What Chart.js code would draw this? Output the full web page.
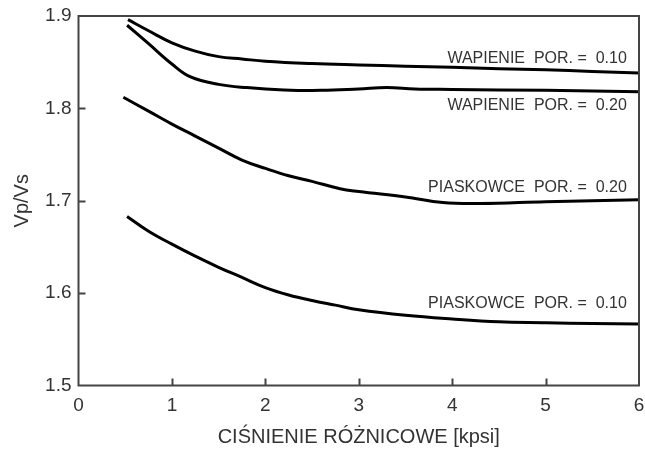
<!DOCTYPE html>
<html>
<head>
<meta charset="utf-8">
<script src="https://cdn.jsdelivr.net/npm/chart.js@4.4.1/dist/chart.umd.min.js"></script>
<style>
  html, body { margin: 0; padding: 0; background: #ffffff; }
  #wrap { width: 645px; height: 450px; }
</style>
</head>
<body>
<div id="wrap"><canvas id="c" width="645" height="450"></canvas></div>
<script>
// ---- data ----
const xTicks = [0, 1, 2, 3, 4, 5, 6];
const yTicks = [1.5, 1.6, 1.7, 1.8, 1.9];

const wap10X = [0.53, 0.75, 1.0, 1.25, 1.5, 1.75, 2.0, 2.5, 3.0, 3.5, 4.0, 4.5, 5.0, 5.5, 6.0];
const wap10Y = [1.896, 1.884, 1.871, 1.862, 1.856, 1.8535, 1.851, 1.8485, 1.847, 1.8457, 1.8444, 1.843, 1.8417, 1.840, 1.8384];

const wap20X = [0.52, 0.75, 1.0, 1.2, 1.5, 1.8, 2.2, 2.6, 3.0, 3.3, 3.6, 4.0, 5.0, 6.0];
const wap20Y = [1.890, 1.870, 1.848, 1.834, 1.826, 1.8225, 1.820, 1.8195, 1.821, 1.8225, 1.821, 1.8205, 1.8195, 1.818];

const pia20X = [0.48, 0.75, 1.0, 1.25, 1.5, 1.75, 2.0, 2.25, 2.5, 2.8, 3.0, 3.5, 3.9, 4.3, 5.0, 5.5, 6.0];
const pia20Y = [1.812, 1.797, 1.783, 1.770, 1.757, 1.744, 1.735, 1.727, 1.721, 1.713, 1.710, 1.704, 1.698, 1.697, 1.699, 1.700, 1.701];

const pia10X = [0.52, 0.75, 1.0, 1.25, 1.5, 1.75, 2.0, 2.25, 2.5, 2.75, 3.0, 3.5, 4.0, 4.5, 5.0, 5.5, 6.0];
const pia10Y = [1.683, 1.667, 1.653, 1.640, 1.628, 1.617, 1.606, 1.598, 1.592, 1.587, 1.582, 1.576, 1.572, 1.569, 1.568, 1.567, 1.5665];

const curveLabels = ['WAPIENIE  POR. =  0.10', 'WAPIENIE  POR. =  0.20', 'PIASKOWCE  POR. =  0.20', 'PIASKOWCE  POR. =  0.10'];
const labelAnchorX = [5.87, 5.87, 5.87, 5.87];
const labelAnchorY = [1.854, 1.8028, 1.7146, 1.589];

const xTitle = 'CIŚNIENIE RÓŻNICOWE [kpsi]';
const yTitle = 'Vp/Vs';

// ---- build ----
function pts(xs, ys) { return xs.map((x, i) => ({ x: x, y: ys[i] })); }
const FONT = '"Liberation Sans", Arial, sans-serif';
const AXIS_COLOR = '#444';
const TEXT_COLOR = '#333';

function ds(xs, ys) {
  return {
    data: pts(xs, ys),
    borderColor: '#000',
    borderWidth: 3,
    pointRadius: 0,
    fill: false,
    showLine: true,
    tension: 0.4
  };
}

const framePlugin = {
  id: 'frame',
  afterDraw(chart) {
    const ctx = chart.ctx;
    const a = chart.chartArea;
    const xs = chart.scales.x, ys = chart.scales.y;
    ctx.save();
    ctx.strokeStyle = AXIS_COLOR;
    ctx.lineWidth = 2;
    ctx.strokeRect(a.left, a.top, a.right - a.left, a.bottom - a.top);
    // inward tick marks
    const len = 7;
    ctx.beginPath();
    xTicks.forEach(v => {
      if (v === xs.min || v === xs.max) return;
      const px = Math.round(xs.getPixelForValue(v)) + 0.5;
      ctx.moveTo(px, a.bottom); ctx.lineTo(px, a.bottom - len);
    });
    yTicks.forEach(v => {
      if (v === ys.min || v === ys.max) return;
      const py = Math.round(ys.getPixelForValue(v)) + 0.5;
      ctx.moveTo(a.left, py); ctx.lineTo(a.left + len, py);
    });
    ctx.stroke();
    // curve labels
    ctx.fillStyle = TEXT_COLOR;
    ctx.font = '16px ' + FONT;
    ctx.textAlign = 'right';
    ctx.textBaseline = 'middle';
    curveLabels.forEach((t, i) => {
      ctx.fillText(t, xs.getPixelForValue(labelAnchorX[i]), ys.getPixelForValue(labelAnchorY[i]));
    });
    // axis titles
    ctx.font = '20px ' + FONT;
    ctx.textAlign = 'center';
    ctx.fillText(xTitle, (a.left + a.right) / 2, 437);
    ctx.save();
    ctx.translate(22, (a.top + a.bottom) / 2);
    ctx.rotate(-Math.PI / 2);
    ctx.fillText(yTitle, 0, 0);
    ctx.restore();
    ctx.restore();
  }
};

new Chart(document.getElementById('c'), {
  type: 'scatter',
  data: {
    datasets: [ds(wap10X, wap10Y), ds(wap20X, wap20Y), ds(pia20X, pia20Y), ds(pia10X, pia10Y)]
  },
  options: {
    responsive: false,
    animation: false,
    devicePixelRatio: 1,
    layout: { padding: { top: 16, right: 6, left: 0, bottom: 0 } },
    plugins: { legend: { display: false }, tooltip: { enabled: false } },
    scales: {
      x: {
        type: 'linear', min: 0, max: 6,
        afterBuildTicks(s) { s.ticks = xTicks.map(v => ({ value: v })); },
        afterFit(s) { s.height = 64.5; s.paddingLeft = 0; s.paddingRight = 0; },
        grid: { display: false, drawTicks: false },
        border: { display: false },
        ticks: { color: TEXT_COLOR, font: { size: 19, family: FONT }, padding: 9, maxRotation: 0, autoSkip: false }
      },
      y: {
        type: 'linear', min: 1.5, max: 1.9,
        afterBuildTicks(s) { s.ticks = yTicks.map(v => ({ value: v })); },
        afterFit(s) { s.width = 78.5; s.paddingTop = 0; s.paddingBottom = 0; },
        grid: { display: false, drawTicks: false },
        border: { display: false },
        ticks: { color: TEXT_COLOR, font: { size: 19, family: FONT }, padding: 7,
          callback: v => v.toFixed(1) }
      }
    }
  },
  plugins: [framePlugin]
});
</script>
</body>
</html>
